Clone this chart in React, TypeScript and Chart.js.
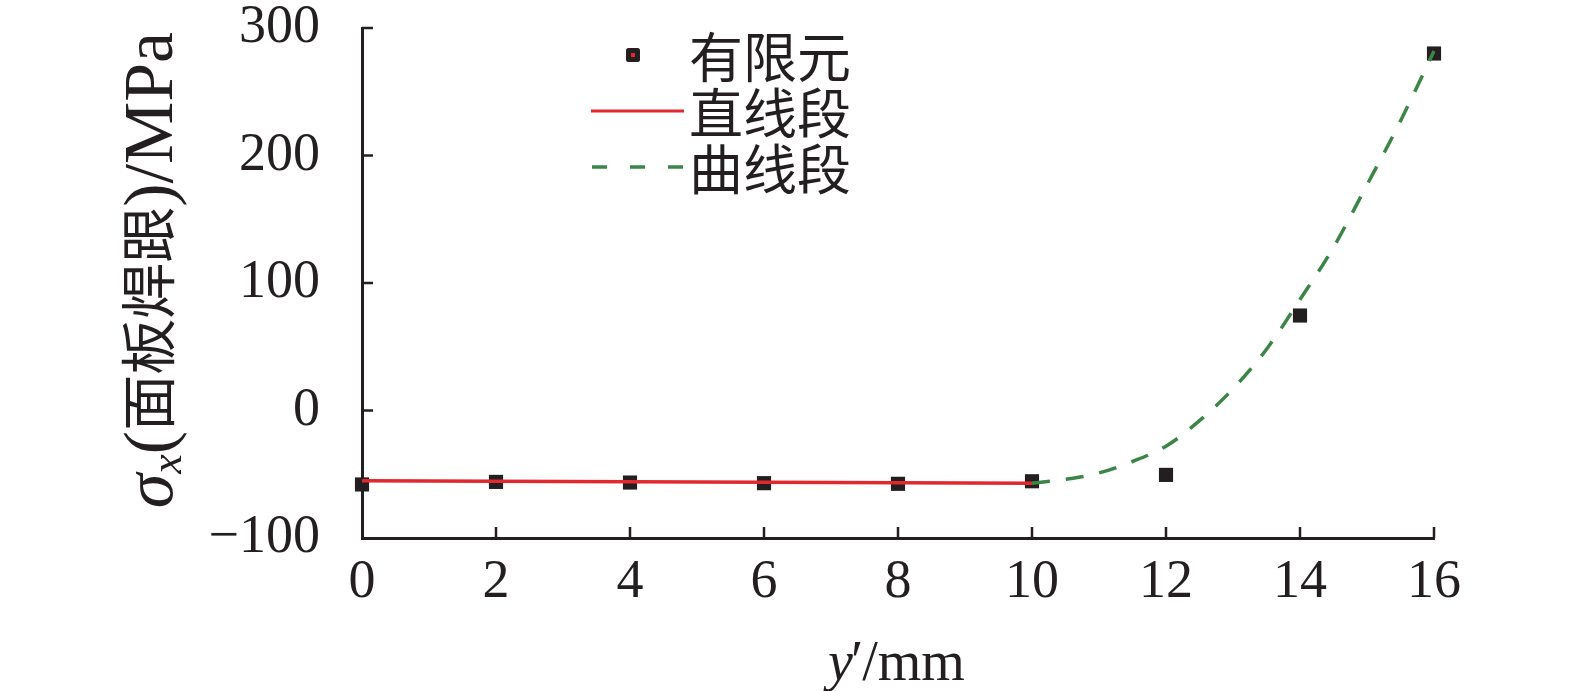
import { useEffect, useRef } from 'react';
import { Chart, registerables } from 'chart.js';
Chart.register(...registerables);

// Finite element results
const feX = [0, 2, 4, 6, 8, 10, 12, 14, 16];
const feY = [-58, -56, -56.5, -57, -57.5, -55.5, -50.5, 74.5, 280];
// Straight segment fit
const straightX = [0, 10];
const straightY = [-55, -57];
// Curve segment fit
const curveX = [10, 10.5, 11, 11.5, 12, 12.5, 13, 13.5, 14, 14.5, 15, 15.5, 16];
const curveY = [-57, -54, -49, -40, -28, -8, 17, 48, 87, 128, 177, 227, 282];

const xTicks = [0, 2, 4, 6, 8, 10, 12, 14, 16];
const yTicks = [-100, 0, 100, 200, 300];
const legendLabels = ['有限元', '直线段', '曲线段'];
const xTitle = { var: 'y', prime: '′', rest: '/mm' };
const yTitle = { sym: 'σ', sub: 'x', open: '(', cjk: '面板焊跟', close: ')/MPa' };

const INK = '#231f20';
const RED = '#e0282e';
const GREEN = '#3b8547';
const SERIF = "'Liberation Serif', 'Times New Roman', serif";
const CJK = "'Noto Sans CJK SC', sans-serif";

const decor = {
  id: 'decor',
  afterDraw(chart: any) {
    const ctx = chart.ctx as CanvasRenderingContext2D;
    const xs = chart.scales.x;
    const ys = chart.scales.y;
    const { left, bottom } = chart.chartArea;
    ctx.save();
    // inside ticks
    ctx.strokeStyle = INK;
    ctx.lineWidth = 2.5;
    xTicks.forEach((v) => {
      if (v === xTicks[0]) return;
      const p = xs.getPixelForValue(v);
      ctx.beginPath();
      ctx.moveTo(p, bottom);
      ctx.lineTo(p, bottom - 11);
      ctx.stroke();
    });
    yTicks.forEach((v) => {
      if (v === yTicks[0]) return;
      const p = ys.getPixelForValue(v);
      ctx.beginPath();
      ctx.moveTo(left, p);
      ctx.lineTo(left + 11, p);
      ctx.stroke();
    });

    // legend
    const rows = [55, 111, 167];
    ctx.fillStyle = INK;
    const mx = 633, my = rows[0];
    ctx.beginPath();
    (ctx as any).roundRect(mx - 7, my - 7, 14, 14, 2.5);
    ctx.fill();
    ctx.fillStyle = RED;
    ctx.fillRect(mx - 2, my - 2, 4, 4);
    ctx.strokeStyle = RED;
    ctx.lineWidth = 3;
    ctx.beginPath();
    ctx.moveTo(591, rows[1]);
    ctx.lineTo(684, rows[1]);
    ctx.stroke();
    ctx.strokeStyle = GREEN;
    ctx.lineWidth = 3.5;
    ctx.setLineDash([15, 23]);
    ctx.beginPath();
    ctx.moveTo(592, rows[2]);
    ctx.lineTo(684, rows[2]);
    ctx.stroke();
    ctx.setLineDash([]);
    ctx.fillStyle = INK;
    ctx.font = `54px ${CJK}`;
    ctx.textBaseline = 'middle';
    ctx.textAlign = 'left';
    legendLabels.forEach((t, i) => ctx.fillText(t, 689, rows[i] + 2));

    // x title
    ctx.textBaseline = 'alphabetic';
    const f1 = `italic 56px ${SERIF}`;
    const f2 = `56px ${SERIF}`;
    ctx.font = f1;
    const w1 = ctx.measureText(xTitle.var).width;
    ctx.font = f2;
    const w2 = ctx.measureText(xTitle.prime).width;
    const w3 = ctx.measureText(xTitle.rest).width;
    const cx = (chart.chartArea.left + chart.chartArea.right) / 2;
    let sx = cx - (w1 + w2 + w3) / 2;
    ctx.font = f1;
    ctx.fillText(xTitle.var, sx, 680);
    sx += w1;
    ctx.font = f2;
    ctx.fillText(xTitle.prime, sx - 2, 680);
    sx += w2 - 3;
    ctx.fillText(xTitle.rest, sx, 680);

    // y title
    ctx.translate(172, 270);
    ctx.rotate(-Math.PI / 2);
    const segs = [
      { t: yTitle.sym, f: `italic 70px ${SERIF}`, dy: 0 },
      { t: yTitle.sub, f: `italic 44px ${SERIF}`, dy: 9 },
      { t: yTitle.open, f: `70px ${SERIF}`, dy: 0 },
      { t: yTitle.cjk, f: `56px ${CJK}`, dy: -3 },
      { t: yTitle.close, f: `70px ${SERIF}`, dy: 0 },
    ];
    let total = 0;
    const widths = segs.map((s) => {
      ctx.font = s.f;
      const w = ctx.measureText(s.t).width;
      total += w;
      return w;
    });
    let px = -total / 2;
    segs.forEach((s, i) => {
      ctx.font = s.f;
      ctx.fillText(s.t, px, s.dy);
      px += widths[i];
    });
    ctx.restore();
  },
};

export default function App() {
  const ref = useRef<HTMLCanvasElement | null>(null);
  useEffect(() => {
    if (!ref.current) return;
    const chart = new Chart(ref.current, {
      type: 'scatter',
      data: {
        datasets: [
          {
            label: legendLabels[1],
            type: 'line',
            data: straightX.map((x, i) => ({ x, y: straightY[i] })),
            borderColor: RED,
            borderWidth: 3.5,
            pointRadius: 0,
            clip: false,
            order: 1,
          } as any,
          {
            label: legendLabels[2],
            type: 'line',
            data: curveX.map((x, i) => ({ x, y: curveY[i] })),
            borderColor: GREEN,
            borderWidth: 3.5,
            borderDash: [18, 16],
            pointRadius: 0,
            tension: 0.4,
            cubicInterpolationMode: 'monotone',
            clip: false,
            order: 2,
          } as any,
          {
            label: legendLabels[0],
            data: feX.map((x, i) => ({ x, y: feY[i] })),
            pointStyle: 'rect',
            pointRadius: 10,
            backgroundColor: INK,
            borderColor: INK,
            borderWidth: 0,
            clip: false,
            order: 3,
          } as any,
        ],
      },
      options: {
        animation: false,
        responsive: true,
        maintainAspectRatio: false,
        layout: { padding: { top: 28, right: 141, left: 0, bottom: 0 } },
        plugins: { legend: { display: false }, tooltip: { enabled: false } },
        scales: {
          x: {
            type: 'linear',
            min: 0,
            max: 16,
            afterFit: (s: any) => {
              s.height = 153;
              s.paddingLeft = 0;
              s.paddingRight = 0;
              s.paddingTop = 0;
              s.paddingBottom = 0;
            },
            afterBuildTicks: (s: any) => { s.ticks = xTicks.map((v) => ({ value: v })); },
            grid: { display: false, drawTicks: false },
            border: { display: true, color: INK, width: 3 },
            ticks: {
              color: INK,
              padding: 18,
              maxRotation: 0,
              font: { family: SERIF, size: 54, lineHeight: 1 },
            },
          },
          y: {
            type: 'linear',
            min: -100,
            max: 300,
            afterFit: (s: any) => {
              s.width = 362;
              s.paddingLeft = 0;
              s.paddingRight = 0;
              s.paddingTop = 0;
              s.paddingBottom = 0;
            },
            afterBuildTicks: (s: any) => { s.ticks = yTicks.map((v) => ({ value: v })); },
            grid: { display: false, drawTicks: false },
            border: { display: true, color: INK, width: 3 },
            ticks: {
              color: INK,
              padding: 42,
              font: { family: SERIF, size: 54, lineHeight: 1 },
              callback: (v: any) => String(v).replace('-', '−'),
            },
          },
        },
      },
      plugins: [decor],
    });
    return () => chart.destroy();
  }, []);
  return (
    <div style={{ position: 'fixed', left: 0, top: 0, width: 1575, height: 691, background: '#fff' }}>
      <canvas ref={ref} />
    </div>
  );
}
